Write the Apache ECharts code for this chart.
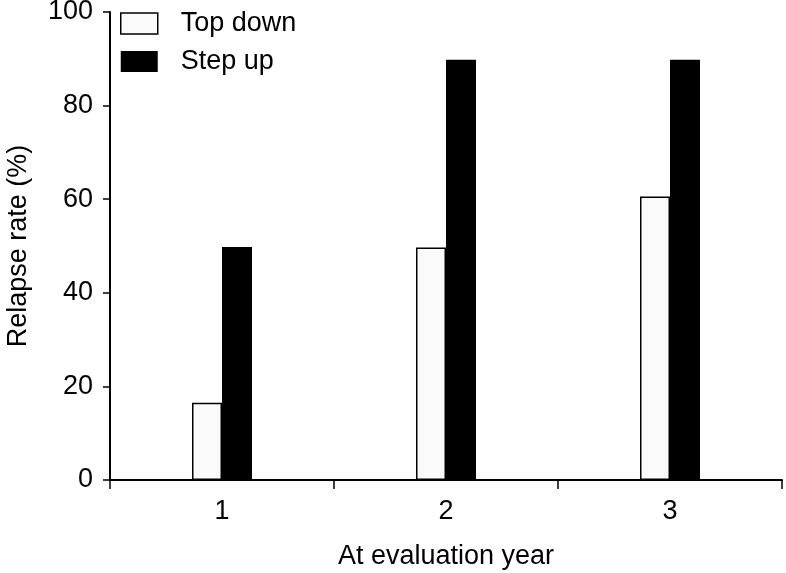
<!DOCTYPE html>
<html><head><meta charset="utf-8">
<script src="https://cdn.jsdelivr.net/npm/echarts@6/dist/echarts.min.js"></script>
<style>html,body{margin:0;padding:0;background:#fff}#c{width:786px;height:573px}</style>
</head><body><div id="c"></div>
<script>
const categories = ['1', '2', '3'];
const topDown = [16.5, 49.7, 60.6];
const stepUp = [49.8, 89.8, 89.8];
const yTicks = [0, 20, 40, 60, 80, 100];

const chart = echarts.init(document.getElementById('c'), null, {renderer: 'canvas'});
const font = 'Liberation Sans, Arial, sans-serif';
const fs = 27;
chart.setOption({
  animation: false,
  backgroundColor: '#fff',
  textStyle: {fontFamily: font},
  grid: {left: 110, right: 4, top: 12, bottom: 93, containLabel: false, outerBoundsMode: 'none'},
  legend: {
    orient: 'vertical', left: 120, top: 10, padding: 0,
    itemWidth: 37, itemHeight: 21, itemGap: 11, icon: 'rect',
    textStyle: {fontSize: fs, lineHeight: 21, color: '#000', fontFamily: font, padding: [0, 0, 0, 18]},
    data: [
      {name: 'Top down', itemStyle: {color: '#fafafa', borderColor: '#000', borderWidth: 1.5}},
      {name: 'Step up', itemStyle: {color: '#000'}}
    ]
  },
  xAxis: {
    type: 'category', data: categories,
    name: 'At evaluation year', nameLocation: 'middle', nameGap: 63,
    nameTextStyle: {fontSize: fs, color: '#000', fontFamily: font},
    axisLine: {lineStyle: {color: '#000', width: 2}},
    axisTick: {show: true, length: 9, lineStyle: {color: '#000', width: 1.5}},
    axisLabel: {fontSize: fs, color: '#000', margin: 18, fontFamily: font}
  },
  yAxis: {
    type: 'value', min: 0, max: 100, interval: 20,
    name: 'Relapse rate (%)', nameLocation: 'middle', nameGap: 78,
    nameTextStyle: {fontSize: fs, color: '#000', fontFamily: font, padding: [0, 0, 0, 0]},
    splitLine: {show: false},
    axisLine: {show: true, lineStyle: {color: '#000', width: 2}},
    axisTick: {show: true, length: 7, lineStyle: {color: '#000', width: 1.5}},
    axisLabel: {fontSize: fs, color: '#000', margin: 17, fontFamily: font,
      formatter: v => yTicks.includes(v) ? String(v) : ''}
  },
  series: [
    {name: 'Top down', type: 'bar', data: topDown, barWidth: 30, barGap: '0%',
     itemStyle: {color: '#fafafa', borderColor: '#000', borderWidth: 1.5}},
    {name: 'Step up', type: 'bar', data: stepUp, barWidth: 30, barGap: '0%',
     itemStyle: {color: '#000'}}
  ]
});
</script></body></html>
